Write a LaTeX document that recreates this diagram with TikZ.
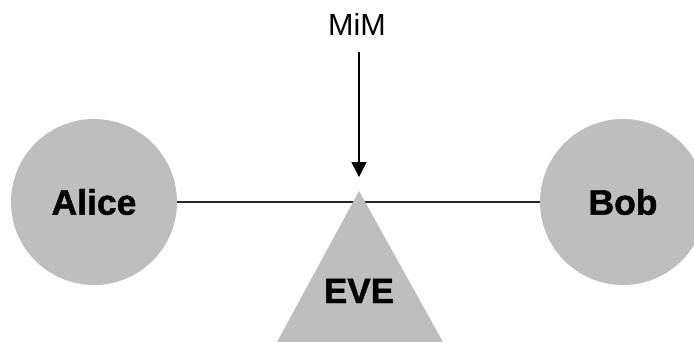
\documentclass[tikz,border=0pt]{standalone}
\usepackage{fontspec}
\setmainfont{Liberation Sans}
\newfontfamily\heavyfont[FakeBold=1.2]{Liberation Sans Bold}
\usetikzlibrary{arrows.meta}
\definecolor{partyfill}{RGB}{190,190,190}
\definecolor{wire}{RGB}{40,40,40}
\begin{document}
\begin{tikzpicture}[x=1pt,y=-1pt,
  party/.style={circle, fill=partyfill, minimum size=166pt, inner sep=0pt,
    font=\fontsize{35.5}{40}\heavyfont},
  evelabel/.style={font=\fontsize{35}{40}\heavyfont, inner sep=0pt},
  wirestyle/.style={draw=wire, line width=1.5pt},
  attack/.style={draw=black, line width=1.5pt, -{Triangle[width=15pt,length=15pt]}},
  tag/.style={font=\fontsize{30.5}{34}\selectfont, inner sep=0pt}]
  \useasboundingbox (0,0) rectangle (694,341);
  \clip (0,0) rectangle (694,341);
  % the two endpoints of the channel
  \node[party] (alice) at (94,202) {Alice};
  \node[party] (bob) at (623,202) {Bob};
  \draw[wirestyle] (alice.east) -- (bob.west);
  % the eavesdropper sitting on the wire
  \coordinate (apex) at (359,191);
  \coordinate (baseL) at (277,342);
  \coordinate (baseR) at (443,342);
  \fill[partyfill] (apex) -- (baseL) -- (baseR) -- cycle;
  \node[evelabel, anchor=base] (eve) at (359,303) {EVE};
  % man-in-the-middle label and arrow
  \node[tag, anchor=base] (mim) at (357,35) {MiM};
  \coordinate (from) at (359,52);
  \coordinate (hit) at (359,177);
  \draw[attack] (from) -- (hit);
\end{tikzpicture}
\end{document}
